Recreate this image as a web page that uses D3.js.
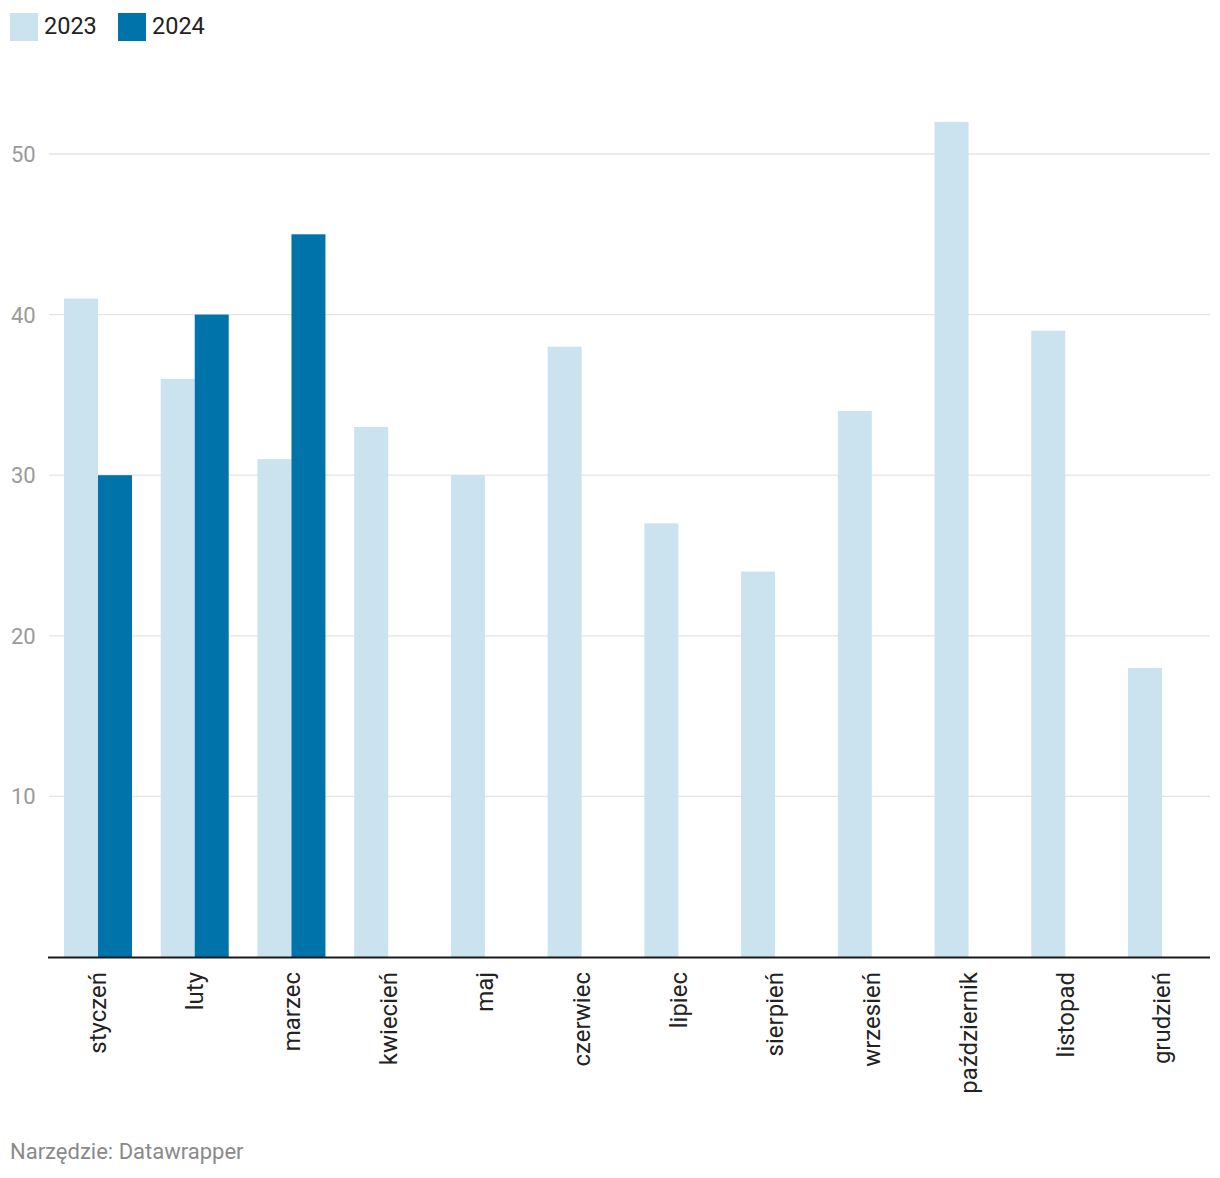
<!DOCTYPE html>
<html><head><meta charset="utf-8">
<script src="https://cdn.jsdelivr.net/npm/d3@7"></script>
<style>body{margin:0;background:#fff;font-family:Roboto,"Noto Sans",sans-serif;}</style>
</head><body><div id="chart"></div>
<script>
const months = ["styczeń","luty","marzec","kwiecień","maj","czerwiec","lipiec","sierpień","wrzesień","październik","listopad","grudzień"];
const series = ["2023","2024"];
const values2023 = [41,36,31,33,30,38,27,24,34,52,39,18];
const values2024 = [30,40,45,null,null,null,null,null,null,null,null,null];
const yTicks = [10,20,30,40,50];
const colors = ["#cbe2ef","#0073ab"];

const W=1220,H=1178;
const svg=d3.select("#chart").append("svg").attr("width",W).attr("height",H);
const y=d3.scaleLinear().domain([0,50]).range([957,154]);
const x=d3.scaleBand().domain(months).range([64,1196]).paddingInner(0.297).paddingOuter(0);
const xs=d3.scaleBand().domain(series).range([0,x.bandwidth()]);

// grid
const g=svg.append("g");
g.selectAll("line.grid").data(yTicks).join("line")
 .attr("x1",49).attr("x2",1210).attr("y1",d=>y(d)).attr("y2",d=>y(d))
 .attr("stroke","#e4e4e4").attr("stroke-width",1.3);
g.selectAll("text.yt").data(yTicks).join("text")
 .attr("x",11).attr("y",d=>y(d)).attr("dy","0.36em")
 .attr("font-size",22).attr("fill","#9a9a9a").text(d=>d);

const data=[values2023,values2024];
series.forEach((s,i)=>{
  svg.append("g").selectAll("rect").data(months.map((m,j)=>({m,v:data[i][j]})).filter(d=>d.v!=null)).join("rect")
   .attr("x",d=>x(d.m)+xs(s)).attr("width",xs.bandwidth())
   .attr("y",d=>y(d.v)).attr("height",d=>y(0)-y(d.v)).attr("fill",colors[i]);
});
// baseline
svg.append("line").attr("x1",48).attr("x2",1210).attr("y1",y(0)+0.5).attr("y2",y(0)+0.5).attr("stroke","#1a1a1a").attr("stroke-width",2);

// x labels
svg.append("g").selectAll("text").data(months).join("text")
 .attr("transform",d=>`translate(${x(d)+x.bandwidth()/2},972) rotate(-90)`)
 .attr("text-anchor","end").attr("dy","0.35em").attr("font-size",24).attr("fill","#222").text(d=>d);

// legend
const leg=svg.append("g");
const lx=[10,118];
series.forEach((s,i)=>{
  leg.append("rect").attr("x",lx[i]).attr("y",13).attr("width",28).attr("height",28).attr("fill",colors[i]);
  leg.append("text").attr("x",lx[i]+34).attr("y",34).attr("font-size",23.5).attr("fill","#222").text(s);
});
// footer
svg.append("text").attr("x",10).attr("y",1159).attr("font-size",22).attr("fill","#8a8a8a").text("Narzędzie: Datawrapper");
</script></body></html>
